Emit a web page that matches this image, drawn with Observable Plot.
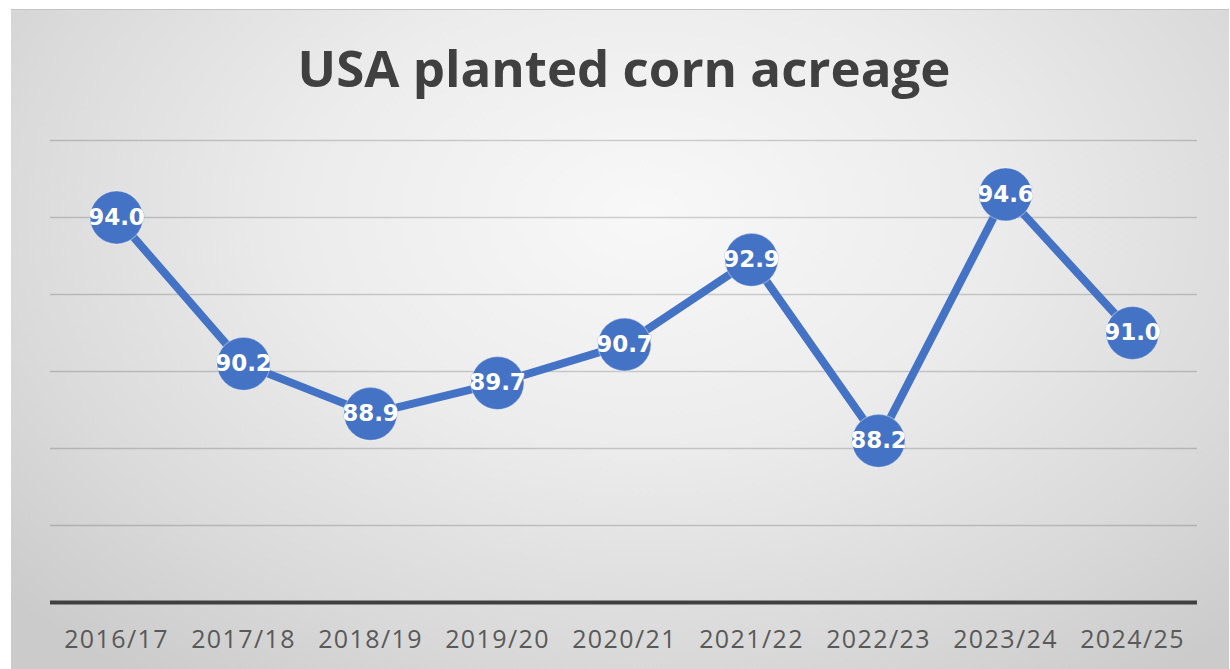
<!DOCTYPE html>
<html>
<head>
<meta charset="utf-8">
<script src="https://cdn.jsdelivr.net/npm/d3@7"></script>
<script src="https://cdn.jsdelivr.net/npm/@observablehq/plot@0.6"></script>
<style>
  html, body { margin: 0; padding: 0; background: #ffffff; }
  #page { position: relative; width: 1230px; height: 669px; overflow: hidden; background: #fff; }
  #frame {
    position: absolute; left: 11px; top: 9px; width: 1218px; height: 680px;
    border-top: 1px solid #c4c4c4;
    background: radial-gradient(ellipse 70% 85% at 52% 30%, #f8f8f8 0%, #ececec 40%, #dadada 75%, #cbcbcb 100%);
  }
  #title {
    position: absolute; left: 11px; width: 1218px; top: 42px; text-align: center;
    font-family: "Open Sans", sans-serif; font-weight: 700; font-size: 51px; line-height: 51px;
    color: #404040; padding-left: 8px; box-sizing: border-box;
  }
  #chart { position: absolute; left: 0; top: 110px; }
</style>
</head>
<body>
<div id="page">
  <div id="frame"></div>
  <div id="title">USA planted corn acreage</div>
  <div id="chart"></div>
</div>
<script>
const seasons = ["2016/17", "2017/18", "2018/19", "2019/20", "2020/21", "2021/22", "2022/23", "2023/24", "2024/25"];
const acreage = [94.0, 90.2, 88.9, 89.7, 90.7, 92.9, 88.2, 94.6, 91.0];
const gridValues = [86, 88, 90, 92, 94, 96];
const yMin = 84;
const yMax = 96;

const data = seasons.map((s, i) => ({season: s, value: acreage[i]}));
const blue = "#4472c4";

const chart = Plot.plot({
  width: 1230,
  height: 560,
  marginLeft: 50,
  marginRight: 33,
  marginTop: 30,
  marginBottom: 68,
  style: {background: "transparent", overflow: "visible"},
  x: {type: "point", domain: seasons, padding: 0.5, axis: null, label: null},
  y: {domain: [yMin, yMax], axis: null},
  marks: [
    Plot.ruleY(gridValues, {stroke: "#000", strokeOpacity: 0.17, strokeWidth: 1.6}),
    Plot.ruleY([yMin], {stroke: "#404040", strokeWidth: 4}),
    Plot.axisX({
      tickSize: 0, tickPadding: 28, fontSize: 25, fill: "#595959",
      fontFamily: "Open Sans", tickFormat: d => d, label: null
    }),
    Plot.line(data, {x: "season", y: "value", stroke: blue, strokeWidth: 8, strokeLinejoin: "round"}),
    Plot.dot(data, {x: "season", y: "value", r: 26.5, fill: blue, stroke: "#ffffff", strokeOpacity: 0.35, strokeWidth: 1.2}),
    Plot.text(data, {
      x: "season", y: "value", text: d => d.value.toFixed(1),
      fill: "#ffffff", fontSize: 23, fontWeight: "bold", fontFamily: "DejaVu Sans",
      stroke: blue, strokeWidth: 1, strokeOpacity: 0.4
    })
  ]
});
document.getElementById("chart").appendChild(chart);
chart.querySelectorAll("g[aria-label='x-axis tick label'] text").forEach(t => t.setAttribute("letter-spacing", "1.4"));
</script>
</body>
</html>
